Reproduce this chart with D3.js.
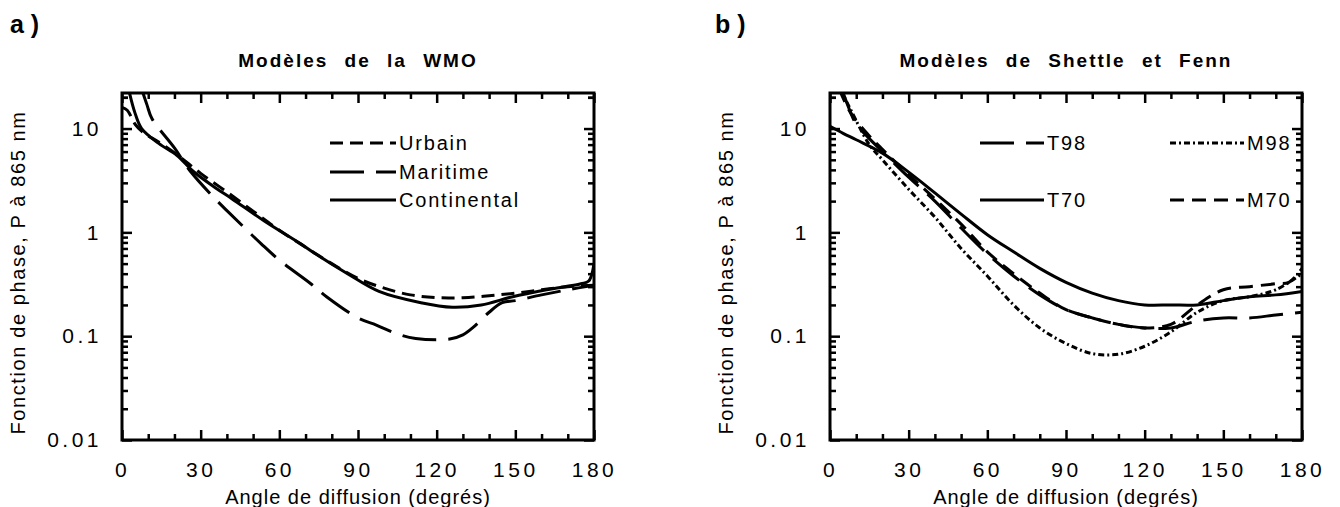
<!DOCTYPE html>
<html>
<head>
<meta charset="utf-8">
<script src="https://cdn.jsdelivr.net/npm/d3@7"></script>
<style>
  body { margin: 0; background: #fff; }
  text { font-family: "Liberation Sans", Arial, sans-serif; fill: #000; }
</style>
</head>
<body>
<div id="chart"></div>
<script>
// values: [angle (deg), P at 865 nm]
var urbain = [[0,16],[2,15],[5,11],[8,9.2],[14,7.4],[21,5.6],[30,3.7],[40,2.45],[50,1.6],[60,1.05],[70,0.72],[80,0.5],[90,0.36],[100,0.29],[110,0.25],[120,0.235],[130,0.235],[140,0.245],[150,0.26],[160,0.28],[170,0.3],[180,0.31]];
var maritime = [[7.5,24],[9.5,17],[11.4,12.5],[20,6.5],[26,3.9],[35,2.17],[40,1.62],[53,0.78],[60,0.54],[72,0.32],[78,0.24],[90,0.15],[97,0.128],[105,0.105],[112,0.095],[125,0.094],[130,0.103],[134,0.122],[140,0.17],[145,0.21],[150,0.22],[160,0.25],[170,0.28],[180,0.31]];
var continental = [[2.5,24],[5,14],[7.5,10],[14,7.2],[21,5.5],[27,3.9],[36,2.65],[42,2.1],[55,1.25],[68,0.78],[73,0.64],[86,0.4],[98,0.27],[114,0.21],[126,0.19],[137,0.2],[149,0.24],[162,0.28],[175,0.32],[178,0.34],[180,0.5]];

var t98 = [[4.5,24],[8,14],[10,11],[15,8],[20,6],[30,3.4],[40,2.0],[50,1.1],[60,0.62],[70,0.38],[80,0.25],[90,0.18],[100,0.15],[110,0.13],[120,0.12],[130,0.12],[140,0.14],[150,0.15],[160,0.15],[170,0.16],[180,0.17]];
var t70 = [[0,10.5],[5,9],[10,7.8],[20,5.8],[30,3.8],[40,2.4],[50,1.5],[60,0.95],[70,0.65],[80,0.45],[90,0.33],[100,0.26],[110,0.22],[120,0.2],[130,0.2],[140,0.2],[150,0.22],[160,0.24],[170,0.25],[180,0.27]];
var m98 = [[4,24],[8,15],[15,7],[20,5],[30,2.6],[40,1.4],[50,0.7],[60,0.38],[70,0.2],[80,0.12],[90,0.085],[100,0.068],[110,0.067],[120,0.08],[130,0.11],[140,0.17],[150,0.22],[160,0.24],[170,0.28],[180,0.4]];
var m70 = [[3.5,24],[8,14],[15,8.5],[20,6.3],[30,3.6],[40,2.1],[50,1.2],[60,0.65],[70,0.4],[80,0.26],[90,0.18],[100,0.15],[110,0.13],[120,0.12],[130,0.13],[140,0.2],[150,0.28],[160,0.3],[170,0.32],[175,0.33],[180,0.45]];

var xTicks = [0, 30, 60, 90, 120, 150, 180];
var yTicks = [0.01, 0.1, 1, 10];
var yTickLabels = ["0.01", "0.1", "1", "10"];

var svgWidth = 1340;
var svgHeight = 507;

var svg = d3.select("#chart")
  .append("svg")
  .attr("width", svgWidth)
  .attr("height", svgHeight);

function drawPanel(p) {
  var width = 472, height = 347;
  var g = svg.append("g").attr("transform", `translate(${p.left}, 93)`);

  var x = d3.scaleLinear().domain([0, 180]).range([0, width]);
  var y = d3.scaleLog().domain([0.01, 22]).range([height, 0]);

  var minorX = d3.range(0, 181, 10).filter(d => d % 30 != 0);
  var minorY = [];
  [0.01, 0.1, 1, 10].forEach(function(dec) {
    for (var k = 2; k <= 9; k++) if (dec * k < 22) minorY.push(dec * k);
  });
  minorY.push(20);

  // ticks on all four sides, pointing inwards
  function tickSet(axis, values, size, labels) {
    return axis.tickValues(values).tickSize(-size).tickFormat(labels ? (d, i) => labels[i] : "");
  }
  g.append("g").attr("transform", `translate(0, ${height})`)
    .call(tickSet(d3.axisBottom(x), xTicks, 10, xTicks.map(String)).tickPadding(22));
  g.append("g").attr("transform", `translate(0, ${height})`).call(tickSet(d3.axisBottom(x), minorX, 6));
  g.append("g").call(tickSet(d3.axisTop(x), xTicks, 10));
  g.append("g").call(tickSet(d3.axisTop(x), minorX, 6));
  g.append("g").call(tickSet(d3.axisLeft(y), yTicks, 10, yTickLabels).tickPadding(20));
  g.append("g").call(tickSet(d3.axisLeft(y), minorY, 6));
  g.append("g").attr("transform", `translate(${width}, 0)`).call(tickSet(d3.axisRight(y), yTicks, 10));
  g.append("g").attr("transform", `translate(${width}, 0)`).call(tickSet(d3.axisRight(y), minorY, 6));

  g.selectAll(".domain").remove();
  g.selectAll(".tick line").attr("stroke", "#000").attr("stroke-width", 2.5);
  g.selectAll(".tick text")
    .style("font-size", "21px")
    .style("letter-spacing", "3.5px");

  g.append("rect")
    .attr("width", width).attr("height", height)
    .attr("fill", "none").attr("stroke", "#000").attr("stroke-width", 3);

  g.append("clipPath").attr("id", "clip" + p.id)
    .append("rect").attr("width", width).attr("height", height);

  var line = d3.line()
    .x(d => x(d[0]))
    .y(d => y(d[1]))
    .curve(d3.curveCatmullRom);

  var plot = g.append("g").attr("clip-path", `url(#clip${p.id})`);
  plot.selectAll("path.curve")
    .data(p.series)
    .enter()
    .append("path")
    .attr("class", "curve")
    .attr("d", d => line(d.values))
    .attr("fill", "none")
    .attr("stroke", "#000")
    .attr("stroke-width", 3)
    .attr("stroke-dasharray", d => d.dash);

  // legend
  var leg = g.selectAll("g.leg")
    .data(p.series)
    .enter()
    .append("g")
    .attr("class", "leg")
    .attr("transform", d => `translate(${d.lx}, ${d.ly})`);
  leg.append("line")
    .attr("x1", 0).attr("x2", d => d.lw)
    .attr("stroke", "#000").attr("stroke-width", 3)
    .attr("stroke-dasharray", d => d.dash);
  leg.append("text")
    .attr("x", d => d.lw + 3)
    .attr("dy", "0.35em")
    .style("font-size", "20px")
    .style("letter-spacing", "1.8px")
    .text(d => d.name);

  // titles and axis labels
  svg.append("text")
    .attr("x", p.tagX).attr("y", 33)
    .style("font-size", "25px").style("font-weight", "bold")
    .text(p.tag);

  g.append("text")
    .attr("x", width / 2).attr("y", -26)
    .attr("text-anchor", "middle")
    .style("font-size", "19px").style("font-weight", "bold")
    .style("letter-spacing", "2px").style("word-spacing", "9px")
    .text(p.title);

  g.append("text")
    .attr("x", width / 2).attr("y", height + 64)
    .attr("text-anchor", "middle")
    .style("font-size", "20px").style("letter-spacing", "1px")
    .text("Angle de diffusion (degrés)");

  g.append("text")
    .attr("transform", "rotate(-90)")
    .attr("x", -height / 2 - 6).attr("y", -97)
    .attr("text-anchor", "middle")
    .style("font-size", "20px").style("letter-spacing", "1.6px")
    .text("Fonction de phase, P à 865 nm");
}

drawPanel({
  id: "a", left: 122, tag: "a )", tagX: 10,
  title: "Modèles de la WMO",
  series: [
    {name: "Urbain", values: urbain, dash: "13,7", lx: 208, ly: 50, lw: 66},
    {name: "Maritime", values: maritime, dash: "34,12", lx: 208, ly: 79, lw: 66},
    {name: "Continental", values: continental, dash: null, lx: 208, ly: 107, lw: 66}
  ]
});

drawPanel({
  id: "b", left: 830, tag: "b )", tagX: 715,
  title: "Modèles de Shettle et Fenn",
  series: [
    {name: "T98", values: t98, dash: "34,12", lx: 150, ly: 50, lw: 64},
    {name: "T70", values: t70, dash: null, lx: 150, ly: 107, lw: 64},
    {name: "M98", values: m98, dash: "6,3,2,3", lx: 340, ly: 50, lw: 74},
    {name: "M70", values: m70, dash: "14,8", lx: 340, ly: 107, lw: 74}
  ]
});
</script>
</body>
</html>
